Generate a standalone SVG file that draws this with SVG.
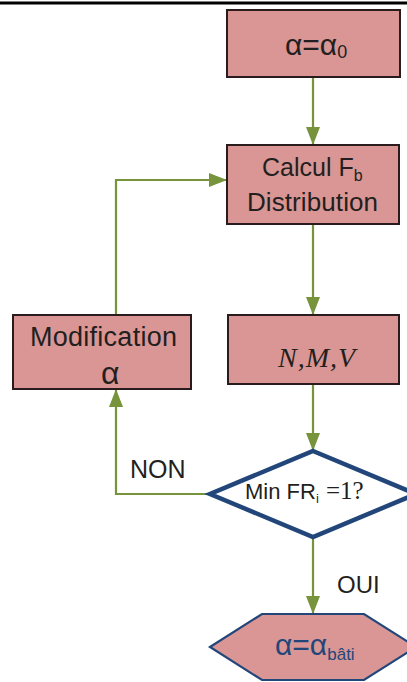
<svg xmlns="http://www.w3.org/2000/svg" width="407" height="682" viewBox="0 0 407 682">
<style>
.box{fill:#D99694;stroke:#2a1c1c;stroke-width:2}
.con{fill:none;stroke:#77933C;stroke-width:2.2}
.t{font-family:"Liberation Sans",Arial,sans-serif;fill:#231f20}
.s{font-family:"Liberation Serif","Times New Roman",serif;fill:#231f20}
</style>
<defs>
<marker id="ah" markerUnits="userSpaceOnUse" markerWidth="18" markerHeight="14" refX="18" refY="7" orient="auto">
<path d="M0,0 L18,7 L0,14 z" fill="#77933C"/>
</marker>
</defs>
<rect x="0" y="1.5" width="407" height="3" fill="#000"/>
<g id="connectors">
<path class="con" d="M313,77 V145" marker-end="url(#ah)"/>
<path class="con" d="M116,315 V180 H227" marker-end="url(#ah)"/>
<path class="con" d="M313,224 V315" marker-end="url(#ah)"/>
<path class="con" d="M313,384 V451" marker-end="url(#ah)"/>
<path class="con" d="M210,494 H116 V389" marker-end="url(#ah)"/>
<path class="con" d="M313,537 V614" marker-end="url(#ah)"/>
<text class="t" x="130" y="478" font-size="25">NON</text>
<text class="t" x="337" y="593" font-size="24">OUI</text>
</g>
<g id="n1">
<rect class="box" x="227" y="10" width="173" height="67"/>
<text class="t" x="285" y="55" font-size="30">α=α<tspan font-size="18" dy="3">0</tspan></text>
</g>
<g id="n2">
<rect class="box" x="227" y="145" width="172" height="79"/>
<text class="t" x="262" y="176" font-size="25">Calcul F<tspan font-size="16" dy="5">b</tspan></text>
<text class="t" x="247" y="211" font-size="26" textLength="131">Distribution</text>
</g>
<g id="n3">
<rect class="box" x="228" y="315" width="171" height="69"/>
<text class="s" x="278" y="367" font-size="28" font-style="italic" textLength="77">N,M,V</text>
</g>
<g id="n4">
<rect class="box" x="13" y="315" width="178" height="74"/>
<text class="t" x="30" y="346" font-size="27" textLength="147">Modification</text>
<text class="t" x="101" y="384" font-size="32">α</text>
</g>
<g id="n5">
<polygon points="313,451 416,494 313,537 210,494" fill="#fff" stroke="#22467A" stroke-width="4.5"/>
<text class="t" x="245" y="499" font-size="22">Min FR<tspan font-size="13" dy="4">i</tspan></text>
<text class="s" x="326" y="499" font-size="25">=1?</text>
</g>
<g id="n6">
<polygon points="210,647 262,614 364,614 416,647 364,680 262,680" fill="#D99694" stroke="#22467A" stroke-width="2.2"/>
<text class="t" x="275" y="655" font-size="30" style="fill:#22467A">α=α<tspan font-size="17" dy="5">bâti</tspan></text>
</g>
</svg>
